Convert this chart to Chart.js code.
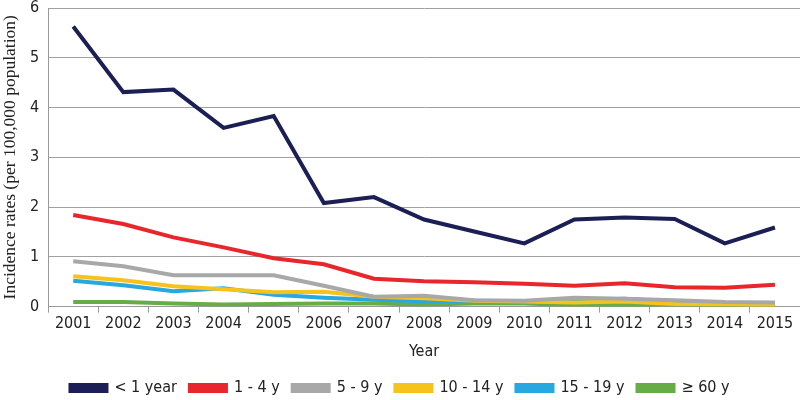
<!DOCTYPE html>
<html>
<head>
<meta charset="utf-8">
<script src="https://cdn.jsdelivr.net/npm/chart.js@4/dist/chart.umd.min.js"></script>
<style>
  html, body { margin: 0; padding: 0; background: #fff; }
  #wrap { width: 800px; height: 400px; }
</style>
</head>
<body>
<div id="wrap"><canvas id="myChart" width="800" height="400"></canvas></div>
<script>
const years = ['2001','2002','2003','2004','2005','2006','2007','2008','2009','2010','2011','2012','2013','2014','2015']

const under1 = [5.63, 4.31, 4.36, 3.59, 3.83, 2.08, 2.20, 1.75, 1.51, 1.27, 1.75, 1.79, 1.76, 1.27, 1.59]
const age1to4 = [1.84, 1.66, 1.39, 1.19, 0.97, 0.85, 0.56, 0.51, 0.49, 0.46, 0.42, 0.47, 0.39, 0.38, 0.44]
const age5to9 = [0.91, 0.81, 0.63, 0.63, 0.63, 0.42, 0.20, 0.22, 0.13, 0.12, 0.18, 0.16, 0.13, 0.09, 0.08]
const age10to14 = [0.61, 0.53, 0.41, 0.35, 0.29, 0.30, 0.20, 0.17, 0.12, 0.10, 0.08, 0.10, 0.05, 0.04, 0.03]
const age15to19 = [0.52, 0.43, 0.31, 0.37, 0.24, 0.18, 0.14, 0.11, 0.12, 0.11, 0.13, 0.16, 0.10, 0.07, 0.07]
const age60plus = [0.09, 0.09, 0.06, 0.04, 0.05, 0.06, 0.06, 0.04, 0.06, 0.06, 0.03, 0.03, 0.04, 0.02, 0.02]

const seriesNames = ['< 1 year', '1 - 4 y', '5 - 9 y', '10 - 14 y', '15 - 19 y', '\u2265 60 y']
const seriesColors = ['#1c1f55', '#e8262b', '#a8a8a8', '#f6c21c', '#27a8e0', '#67ad45']
const seriesData = [under1, age1to4, age5to9, age10to14, age15to19, age60plus]

const tickFont = { family: "'DejaVu Sans Condensed', 'DejaVu Sans', sans-serif", size: 16 }

const ctx = document.getElementById('myChart')
const myChart = new Chart(ctx, {
  type: 'line',
  data: {
    labels: years,
    datasets: seriesData.map((d, i) => ({
      label: seriesNames[i],
      data: d,
      borderColor: seriesColors[i],
      backgroundColor: seriesColors[i],
      borderWidth: 4,
      pointRadius: 0,
      tension: 0,
      fill: false
    }))
  },
  options: {
    responsive: false,
    animation: false,
    layout: { padding: { left: 0, right: 0, top: 0, bottom: -6 } },
    plugins: {
      legend: {
        position: 'bottom',
        labels: {
          boxWidth: 36,
          boxHeight: 6,
          color: '#222',
          padding: 13,
          font: tickFont
        }
      },
      tooltip: { enabled: false }
    },
    scales: {
      x: {
        offset: true,
        grid: {
          offset: true,
          drawOnChartArea: false,
          drawTicks: true,
          tickLength: 6,
          color: '#999'
        },
        border: { display: true, color: '#999' },
        ticks: { color: '#222', font: tickFont, maxRotation: 0, autoSkip: false, padding: 2 },
        title: { display: true, text: 'Year', color: '#222', font: tickFont, padding: { top: 6, bottom: 6 } }
      },
      y: {
        min: 0,
        max: 6,
        afterFit: (scale) => { scale.paddingTop = 8 },
        grid: { color: '#a0a0a0', drawTicks: false },
        border: { display: true, color: '#999' },
        ticks: { stepSize: 1, color: '#222', font: tickFont, padding: 9 },
        title: {
          display: true,
          text: 'Incidence rates (per 100,000 population)',
          color: '#222',
          font: { family: "'Liberation Serif', 'Times New Roman', serif", size: 17.5 },
          padding: { top: 0, bottom: 0 }
        }
      }
    }
  }
})
</script>
</body>
</html>
